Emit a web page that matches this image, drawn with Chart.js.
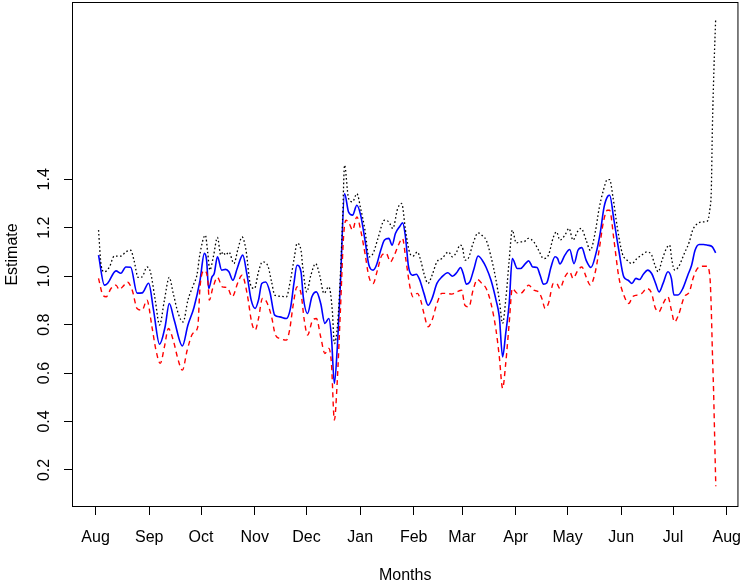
<!DOCTYPE html>
<html>
<head>
<meta charset="utf-8">
<script src="https://cdn.jsdelivr.net/npm/chart.js@4/dist/chart.umd.min.js"></script>
<style>
html,body{margin:0;padding:0;background:#fff;}
#wrap{width:754px;height:585px;}
</style>
</head>
<body>
<div id="wrap"><canvas id="c" width="754" height="585"></canvas></div>
<script>
// x positions are days since 1 Aug
const monthTickDays = [0,31,61,92,122,153,184,212,243,273,304,334,365];
const monthLabels = ["Aug","Sep","Oct","Nov","Dec","Jan","Feb","Mar","Apr","May","Jun","Jul","Aug"];
const yTickValues = [0.2,0.4,0.6,0.8,1.0,1.2,1.4];

const estDays = [1.7,5.1,7.0,11.8,14.6,17.5,20.3,24.0,26.9,30.7,33.5,37.0,40.2,42.6,45.5,50.2,53.4,56.9,60.4,62.9,64.2,65.4,67.3,68.6,70.5,72.9,75.2,77.1,79.4,81.9,85.1,87.6,90.0,92.3,94.2,96.1,98.4,100.8,103.6,106.5,110.3,112.7,114.7,116.5,118.8,120.1,122.6,125.1,127.7,130.2,132.6,134.9,136.4,138.1,139.7,141.6,144.0,146.3,148.6,151.1,153.3,155.8,158.1,160.5,162.4,164.9,167.1,169.6,171.5,173.4,175.7,177.6,179.1,181.0,183.2,185.5,187.4,189.9,192.3,194.6,197.4,200.3,203.7,206.4,208.8,211.1,212.6,214.5,216.4,218.9,221.2,223.6,225.9,228.7,231.6,233.5,235.4,237.2,239.2,241.0,243.9,245.8,248.6,250.5,252.8,255.3,257.1,259.1,260.9,263.4,265.7,267.2,268.5,271.4,274.2,276.7,279.0,281.2,283.7,286.5,289.4,291.8,294.1,296.2,297.3,299.8,302.6,305.5,308.0,310.2,312.5,314.6,316.8,319.3,321.6,323.9,325.9,328.2,331.0,333.0,334.5,336.8,339.6,342.5,344.7,346.7,349.1,351.6,353.9,356.7,358.6];
const estimate = [1.087,0.963,0.971,1.022,1.012,1.038,1.037,0.930,0.931,0.971,0.860,0.719,0.791,0.887,0.818,0.712,0.798,0.871,0.983,1.094,1.066,0.949,0.997,1.011,1.080,1.025,1.028,1.018,0.983,1.032,1.087,1.004,0.901,0.867,0.901,0.970,0.976,0.935,0.839,0.832,0.825,0.867,0.970,1.045,1.018,0.915,0.846,0.915,0.935,0.887,0.805,0.825,0.749,0.557,0.695,0.970,1.341,1.265,1.252,1.293,1.252,1.149,1.045,1.025,1.045,1.107,1.149,1.156,1.128,1.176,1.203,1.220,1.169,1.038,1.004,1.008,0.986,0.929,0.880,0.908,0.970,0.997,1.014,1.000,1.014,1.036,1.011,0.967,0.976,1.032,1.083,1.066,1.036,0.983,0.901,0.832,0.667,0.764,0.887,1.073,1.032,1.032,1.052,1.063,1.038,1.036,1.004,0.967,0.972,1.038,1.080,1.073,1.050,1.087,1.110,1.052,1.107,1.118,1.066,1.036,1.094,1.176,1.286,1.330,1.334,1.231,1.107,0.997,0.983,0.970,0.991,0.986,1.008,1.025,1.011,0.970,0.935,0.970,1.018,0.991,0.922,0.922,0.949,1.004,1.045,1.107,1.131,1.131,1.128,1.121,1.096];

const upperDays = [1.7,3.2,5.1,8.0,10.8,14.6,17.5,20.3,22.2,24.6,26.9,29.7,31.7,34.5,37.0,39.8,42.6,44.9,47.8,50.6,53.4,56.9,58.6,60.4,63.5,64.8,66.1,68.1,70.5,72.4,73.7,75.2,77.1,80.0,82.4,84.7,87.0,89.4,91.9,94.2,96.5,99.5,101.8,103.6,107.4,110.3,112.7,115.0,116.5,118.8,119.8,122.1,124.5,127.3,129.6,132.1,134.9,136.9,138.1,140.0,141.6,142.9,144.0,146.3,148.6,151.1,153.3,155.8,158.1,160.5,163.3,167.1,169.6,171.9,174.7,177.0,179.5,181.8,183.6,186.1,188.0,189.9,192.3,194.6,197.4,200.3,204.1,206.4,208.8,210.7,212.1,213.6,215.5,218.3,221.2,224.0,225.9,228.7,231.6,233.5,235.4,237.2,239.2,241.0,243.3,245.8,247.7,250.2,253.4,256.2,259.1,261.9,264.8,266.6,268.5,271.4,273.8,276.1,278.6,280.8,283.7,286.1,289.0,291.2,293.7,296.0,297.3,299.2,301.7,304.6,307.4,310.2,313.1,315.9,318.8,321.6,323.5,325.4,327.6,330.1,332.0,333.3,334.9,337.1,340.5,343.4,345.3,348.1,351.0,353.8,355.3,356.1,356.7,357.6,358.6];
const upper = [1.190,1.045,1.018,1.038,1.083,1.083,1.100,1.107,1.066,0.995,0.997,1.038,1.018,0.901,0.798,0.901,0.995,0.929,0.846,0.811,0.901,0.970,1.004,1.094,1.169,1.100,1.025,1.080,1.160,1.087,1.100,1.087,1.100,1.052,1.114,1.162,1.107,0.970,0.949,1.018,1.059,1.045,0.976,0.922,0.917,0.915,0.983,1.080,1.135,1.107,1.038,0.935,1.004,1.052,1.004,0.929,0.956,0.860,0.722,0.805,1.011,1.245,1.458,1.321,1.307,1.341,1.279,1.190,1.080,1.094,1.156,1.231,1.224,1.197,1.279,1.300,1.176,1.094,1.083,1.100,1.066,1.011,0.970,1.004,1.059,1.073,1.100,1.080,1.100,1.128,1.121,1.066,1.073,1.135,1.179,1.165,1.149,1.080,0.983,0.901,0.805,0.901,1.066,1.190,1.137,1.142,1.142,1.156,1.142,1.107,1.073,1.087,1.162,1.183,1.149,1.169,1.197,1.149,1.183,1.197,1.149,1.107,1.183,1.279,1.355,1.399,1.399,1.327,1.203,1.094,1.066,1.052,1.073,1.087,1.100,1.087,1.045,1.018,1.066,1.114,1.128,1.066,1.025,1.038,1.094,1.142,1.190,1.217,1.224,1.227,1.279,1.355,1.603,1.850,2.057];

const lowerDays = [1.7,4.2,6.1,8.9,11.8,13.6,16.5,18.4,21.2,24.0,26.9,29.7,32.6,34.9,37.4,39.8,42.1,44.9,47.8,50.2,53.0,56.3,59.1,60.4,62.9,64.8,65.8,67.7,70.5,73.3,76.2,79.0,82.4,84.7,87.6,90.4,92.3,94.2,96.5,98.9,101.8,104.0,106.5,110.3,112.2,114.1,116.5,118.8,120.7,122.6,125.5,127.7,130.2,132.6,134.9,136.4,138.1,139.7,141.6,143.4,144.8,146.7,148.6,151.1,153.3,155.8,158.1,160.5,163.0,165.6,168.1,170.5,172.8,175.1,177.5,179.5,181.8,183.6,186.1,188.0,189.9,192.3,194.6,197.4,200.3,203.1,206.0,208.8,211.7,213.6,215.9,218.3,220.8,223.4,225.9,228.7,231.6,233.5,235.4,237.2,239.2,241.0,243.9,245.8,248.6,250.5,253.4,256.2,258.1,260.0,261.9,264.8,266.6,268.5,271.4,274.2,276.1,279.0,281.2,283.7,286.1,288.8,291.2,293.7,296.0,297.3,299.8,302.6,305.5,308.3,310.6,313.1,315.9,318.8,321.6,323.5,325.8,328.2,331.0,333.0,334.8,337.1,340.5,343.4,345.8,348.1,351.0,353.5,355.3,356.1,356.7,357.4,358.2,358.7];
const lower = [0.991,0.922,0.915,0.949,0.963,0.945,0.963,0.976,0.942,0.867,0.860,0.901,0.791,0.695,0.640,0.708,0.784,0.736,0.653,0.612,0.695,0.764,0.791,0.956,1.022,0.991,0.901,0.949,0.995,0.956,0.953,0.915,0.976,1.004,0.929,0.805,0.777,0.825,0.908,0.894,0.832,0.757,0.743,0.736,0.777,0.873,0.956,0.929,0.818,0.757,0.818,0.825,0.749,0.681,0.702,0.640,0.406,0.557,0.860,1.162,1.231,1.217,1.190,1.245,1.190,1.094,0.997,0.970,1.025,1.087,1.094,1.059,1.087,1.128,1.156,1.066,0.956,0.915,0.929,0.901,0.846,0.791,0.818,0.887,0.929,0.929,0.926,0.935,0.942,0.880,0.873,0.942,0.986,0.970,0.949,0.887,0.777,0.667,0.537,0.640,0.805,0.949,0.929,0.929,0.949,0.963,0.942,0.935,0.908,0.867,0.887,0.970,0.970,0.949,0.997,1.018,0.991,1.025,1.038,0.997,0.963,1.011,1.107,1.224,1.272,1.272,1.149,0.997,0.922,0.887,0.915,0.922,0.929,0.949,0.929,0.873,0.853,0.887,0.915,0.860,0.811,0.839,0.915,0.935,0.997,1.032,1.041,1.041,0.997,0.860,0.695,0.530,0.283,0.133];

const toXY = (xs, ys) => xs.map((x, i) => ({x: x, y: ys[i]}));

const FONT = "'Liberation Sans', Arial, Helvetica, sans-serif";

const boxPlugin = {
  id: 'rbox',
  afterDraw(chart) {
    const ctx = chart.ctx, a = chart.chartArea;
    ctx.save();
    ctx.strokeStyle = '#000';
    ctx.lineWidth = 1;
    ctx.strokeRect(a.left + 0.5, a.top + 0.5, a.right - a.left - 1, a.bottom - a.top - 1);
    // rotated y tick labels (R style, las=0)
    const ys = chart.scales.y;
    ctx.fillStyle = '#000';
    ctx.font = '16px ' + FONT;
    ctx.textAlign = 'center';
    ctx.textBaseline = 'middle';
    yTickValues.forEach(v => {
      const py = ys.getPixelForValue(v);
      ctx.save();
      ctx.translate(45, py);
      ctx.rotate(-Math.PI / 2);
      ctx.fillText(v.toFixed(1), 0, 0);
      ctx.restore();
    });
    ctx.restore();
  }
};

const common = {pointRadius: 0, pointHoverRadius: 0, fill: false, cubicInterpolationMode: 'monotone', borderCapStyle: 'butt'};

new Chart(document.getElementById('c'), {
  type: 'line',
  data: {
    datasets: [
      Object.assign({label: 'Upper', data: toXY(upperDays, upper), borderColor: '#000000', borderWidth: 1.3, borderDash: [1.6, 2.4]}, common),
      Object.assign({label: 'Lower', data: toXY(lowerDays, lower), borderColor: '#ff0000', borderWidth: 1.4, borderDash: [5, 4]}, common),
      Object.assign({label: 'Estimate', data: toXY(estDays, estimate), borderColor: '#0000ff', borderWidth: 1.6}, common)
    ]
  },
  options: {
    responsive: false,
    animation: false,
    events: [],
    layout: {padding: {top: 2, right: 4, left: 0, bottom: 0}},
    plugins: {legend: {display: false}, tooltip: {enabled: false}},
    scales: {
      x: {
        type: 'linear',
        min: (72 - 96) / 1.759,
        max: (750 - 96) / 1.759,
        afterBuildTicks: s => { s.ticks = monthTickDays.map(v => ({value: v})); },
        afterFit: s => { s.height = 78; },
        border: {display: false},
        grid: {drawOnChartArea: false, drawTicks: true, tickLength: 8, color: '#000', tickColor: '#000', tickWidth: 1},
        ticks: {
          autoSkip: false, maxRotation: 0, minRotation: 0, padding: 13,
          color: '#000', font: {family: FONT, size: 16},
          callback: (v, i) => monthLabels[i]
        },
        title: {display: true, text: 'Months', color: '#000', font: {family: FONT, size: 16}, padding: {top: 0, bottom: 0}}
      },
      y: {
        type: 'linear',
        min: 0.047,
        max: 2.132,
        afterBuildTicks: s => { s.ticks = yTickValues.map(v => ({value: v})); },
        afterFit: s => { s.width = 72; },
        border: {display: false},
        grid: {drawOnChartArea: false, drawTicks: true, tickLength: 8, color: '#000', tickColor: '#000', tickWidth: 1},
        ticks: {display: false},
        title: {display: true, text: 'Estimate', color: '#000', font: {family: FONT, size: 16}, padding: {top: 3, bottom: 0}}
      }
    }
  },
  plugins: [boxPlugin]
});
</script>
</body>
</html>
